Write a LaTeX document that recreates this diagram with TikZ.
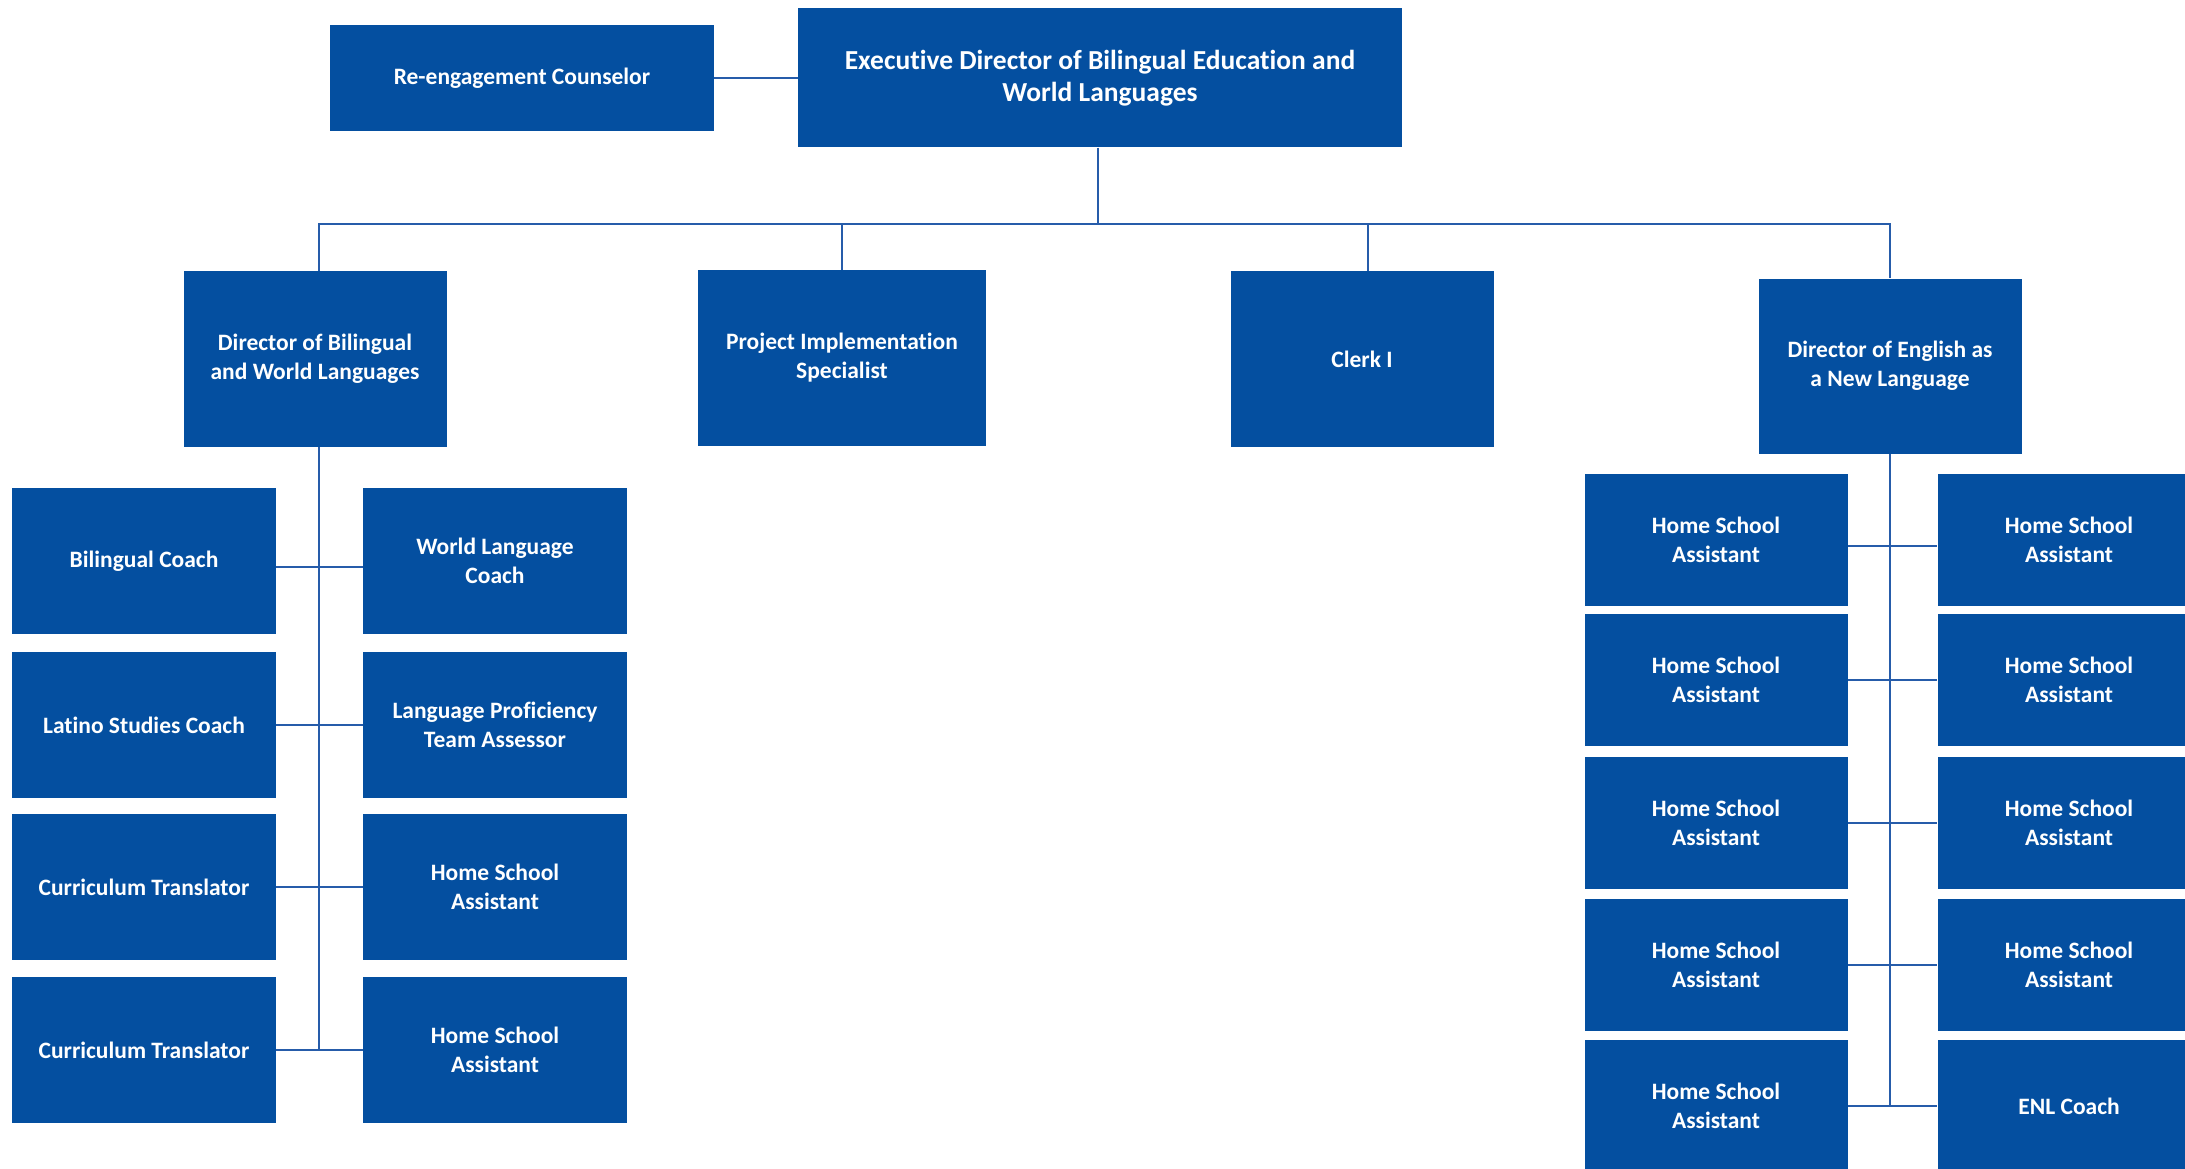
\documentclass[tikz,border=0pt]{standalone}
\usepackage{fontspec}
\setmainfont{Carlito}[Ligatures=NoCommon]
\definecolor{boxblue}{RGB}{4,79,160}
\definecolor{lineblue}{RGB}{38,92,170}
\begin{document}
\begin{tikzpicture}[x=1pt,y=-1pt,
  box/.style={fill=boxblue,text=white,align=center,inner sep=0pt,
    font=\bfseries\fontsize{23.5}{29}\selectfont},
  bigbox/.style={box,font=\bfseries\fontsize{27.5}{32}\selectfont},
  lbox/.style={box,minimum width=264pt,minimum height=146pt},
  ebox/.style={box,minimum width=263pt,minimum height=132pt},
  link/.style={draw=lineblue,line width=1.6pt}]
\clip (0,0) rectangle (2185,1169);
\fill[white] (0,0) rectangle (2185,1169);
% top
\node[box,minimum width=384pt,minimum height=106pt] (reeng) at (522,78) {Re-engagement Counselor};
\node[bigbox,minimum width=604pt,minimum height=139pt] (exec) at (1100,78) {Executive Director of Bilingual Education and\\World Languages};
% second level
\node[box,minimum width=263pt,minimum height=176pt] (dirbil) at (315,359) {Director of Bilingual\\and World Languages};
\node[box,minimum width=288pt,minimum height=176pt] (proj) at (842,358) {Project Implementation\\Specialist};
\node[box,minimum width=263pt,minimum height=176pt] (clerk) at (1362,359) {Clerk I};
\node[box,minimum width=263pt,minimum height=175pt] (direnl) at (1890,366) {Director of English as\\a New Language};
% left group
\node[lbox] (lc1) at (144,561) {Bilingual Coach};
\node[lbox] (lc2) at (144,725) {Latino Studies Coach};
\node[lbox] (lc3) at (144,887) {Curriculum Translator};
\node[lbox] (lc4) at (144,1050) {Curriculum Translator};
\node[lbox] (rc1) at (495,561) {World Language\\Coach};
\node[lbox] (rc2) at (495,725) {Language Proficiency\\Team Assessor};
\node[lbox] (rc3) at (495,887) {Home School\\Assistant};
\node[lbox] (rc4) at (495,1050) {Home School\\Assistant};
% right group
\node[ebox] (ec1) at (1716,540) {Home School\\Assistant};
\node[ebox] (ec2) at (1716,680) {Home School\\Assistant};
\node[ebox] (ec3) at (1716,823) {Home School\\Assistant};
\node[ebox] (ec4) at (1716,965) {Home School\\Assistant};
\node[ebox] (ec5) at (1716,1106) {Home School\\Assistant};
\node[ebox] (fc1) at (2069,540) {Home School\\Assistant};
\node[ebox] (fc2) at (2069,680) {Home School\\Assistant};
\node[ebox] (fc3) at (2069,823) {Home School\\Assistant};
\node[ebox] (fc4) at (2069,965) {Home School\\Assistant};
\node[ebox] (fc5) at (2069,1106) {ENL Coach};
% connectors
\coordinate (bus) at (1098,224);
\coordinate (dbtop) at ([xshift=4pt]dirbil.north);
\coordinate (dbbot) at ([xshift=4pt]dirbil.south);
\coordinate (ctop) at ([xshift=6pt]clerk.north);
\draw[link] (reeng.east) -- (reeng.east -| exec.west);
\draw[link] (exec.south -| bus) -- (bus);
\draw[link] (dbtop) -- (dbtop |- bus) -- (direnl.north |- bus) -- (direnl.north);
\draw[link] (proj.north) -- (proj.north |- bus);
\draw[link] (ctop) -- (ctop |- bus);
\draw[link] (dbbot) -- (dbbot |- lc4.east);
\draw[link] ([yshift=-6pt]lc1.east) -- ([yshift=-6pt]rc1.west);
\foreach \i in {2,...,4}{\draw[link] (lc\i.east) -- (rc\i.west);}
\draw[link] (direnl.south) -- (direnl.south |- ec5.east);
\draw[link] ([yshift=-6pt]ec1.east) -- ([yshift=-6pt]fc1.west);
\foreach \i in {2,...,5}{\draw[link] (ec\i.east) -- (fc\i.west);}
\end{tikzpicture}
\end{document}
